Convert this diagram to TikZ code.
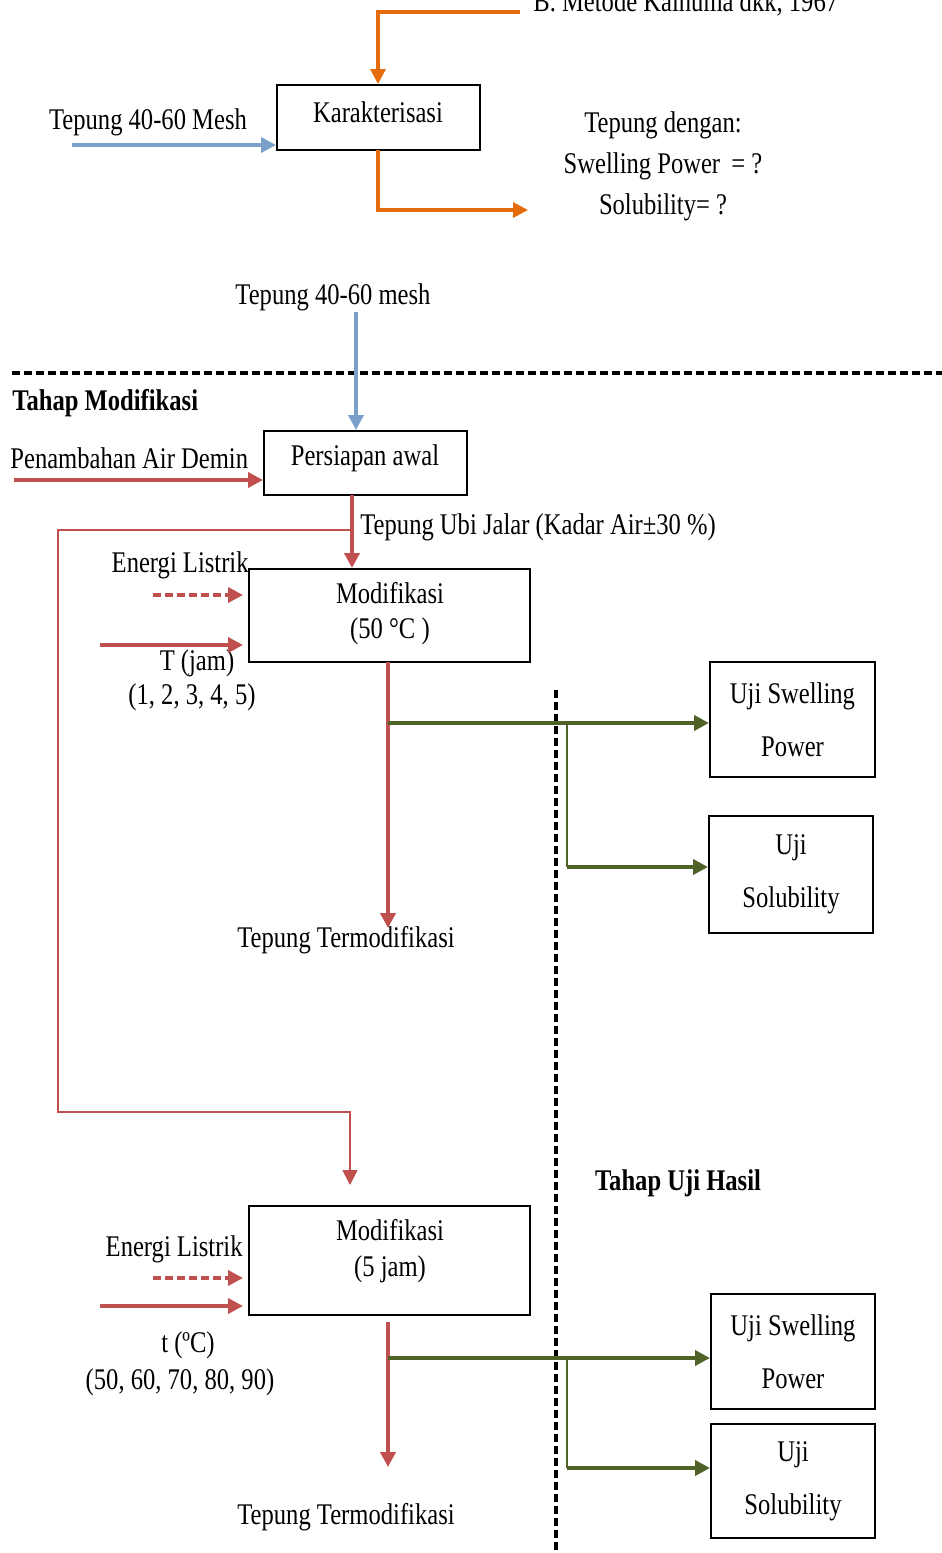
\documentclass[tikz,border=0pt]{standalone}
\usepackage{fontspec}
\setmainfont{Liberation Serif}[FakeStretch=0.82]
\usetikzlibrary{arrows.meta}
\definecolor{cor}{RGB}{228,108,10}
\definecolor{cbl}{RGB}{122,160,202}
\definecolor{crd}{RGB}{192,80,77}
\definecolor{cgr}{RGB}{79,98,40}
\begin{document}
\begin{tikzpicture}[x=0.5pt,y=-0.5pt,
  font=\fontsize{15}{17}\selectfont,
  box/.style={draw, line width=1pt, inner sep=0, fill=white},
  lbl/.style={inner sep=0},
  tipA/.style={-{Triangle[length=7.5pt,width=7.5pt]}},
  orline/.style={draw=cor, line width=1.6pt},
  blline/.style={draw=cbl, line width=1.8pt},
  rdline/.style={draw=crd, line width=2pt},
  rdthin/.style={draw=crd, line width=0.9pt},
  grline/.style={draw=cgr, line width=2.2pt},
  grthin/.style={draw=cgr, line width=1.1pt},
  sep/.style={draw=black, line width=1.7pt, dash pattern=on 4pt off 2pt}]
\useasboundingbox (0,0) rectangle (942,1553);
\clip (0,0) rectangle (942,1553);

% separators
\coordinate (h1) at (12,373);
\coordinate (h2) at (942,373);
\draw[sep] (h1) -- (h2);
\coordinate (v1) at (556,690);
\coordinate (v2) at (556,1560);
\draw[sep] (v1) -- (v2);

% boxes
\node[box, minimum width=101.5pt, minimum height=32.5pt] (kar) at (378.5,117.5) {};
\node[lbl] (karT) at (378,112) {Karakterisasi};
\node[box, minimum width=101.5pt, minimum height=32pt] (pers) at (365.5,463) {};
\node[lbl] (persT) at (365,458) {Persiapan awal};
\node[box, minimum width=140.5pt, minimum height=46.5pt] (mod1) at (389.5,615.5) {};
\node[lbl, align=center] (mod1T) at (390,614) {Modifikasi\\[0.5pt](50 °C )};
\node[box, minimum width=140.5pt, minimum height=54.5pt] (mod2) at (389.5,1260.5) {};
\node[lbl, align=center] (mod2T) at (390,1251) {Modifikasi\\[1pt](5 jam)};
\node[box, minimum width=82.5pt, minimum height=57.5pt, align=center] (sp1) at (792.5,719.5) {Uji Swelling\\[9.5pt]Power};
\node[box, minimum width=82pt, minimum height=58.5pt, align=center] (sol1) at (791,874.5) {Uji\\[9.5pt]Solubility};
\node[box, minimum width=82pt, minimum height=57.5pt, align=center] (sp2) at (793,1351.5) {Uji Swelling\\[9.5pt]Power};
\node[box, minimum width=82pt, minimum height=57pt, align=center] (sol2) at (793,1481) {Uji\\[9.5pt]Solubility};

% texts
\node[lbl, anchor=base west] (ref) at (533,11) {B. Metode Kainuma dkk, 1967};
\node[lbl] (t4060) at (148,122) {Tepung 40-60 Mesh};
\node[lbl, align=center] (out) at (663,166) {Tepung dengan:\\[3.5pt]Swelling Power \,= ?\\[3.5pt]Solubility= ?};
\node[lbl] (t4060b) at (333,297) {Tepung 40-60 mesh};
\node[lbl, anchor=west, font=\fontsize{15}{17}\selectfont\bfseries] (tm) at (12,403) {Tahap Modifikasi};
\node[lbl, anchor=west] (pad) at (10,458) {Penambahan Air Demin};
\node[lbl, anchor=west] (tuj) at (360,527) {Tepung Ubi Jalar (Kadar Air±30 \%)};
\node[lbl, anchor=east] (el1) at (249,565) {Energi Listrik};
\node[lbl] (tj) at (197,663) {T (jam)};
\node[lbl] (tjv) at (192,697) {(1, 2, 3, 4, 5)};
\node[lbl] (tt1) at (346,940) {Tepung Termodifikasi};
\node[lbl, font=\fontsize{15}{17}\selectfont\bfseries] (tuh) at (678,1183) {Tahap Uji Hasil};
\node[lbl, anchor=east] (el2) at (243,1249) {Energi Listrik};
\node[lbl] (tc) at (188,1345) {t (ºC)};
\node[lbl] (tcv) at (180,1382) {(50, 60, 70, 80, 90)};
\node[lbl] (tt2) at (346,1517) {Tepung Termodifikasi};

% orange
\coordinate (o1) at (520,12);
\draw[orline, tipA] (o1) -| (kar.north -| 378,0);
\coordinate (o2) at (528,210);
\coordinate (o0) at (378,150);
\draw[orline, tipA] (o0) |- (o2);

% blue
\coordinate (b1) at (72,145);
\draw[blline, tipA] (b1) -- (b1 -| kar.west);
\coordinate (b2) at (356,312);
\draw[blline, tipA] (b2) -- (b2 |- pers.north);

% red top part
\coordinate (r1) at (14,480);
\draw[rdline, tipA] (r1) -- (r1 -| pers.west);
\coordinate (r2) at (352,495);
\draw[rdline, tipA] (r2) -- (r2 |- mod1.north);
\coordinate (r3) at (352,530);
\coordinate (r4) at (58,1112);
\coordinate (r5) at (350,1185);
\draw[rdthin, tipA] (r3) -| (r4) -| (r5);

\coordinate (e1) at (153,595);
\coordinate (e1b) at (243,595);
\draw[rdline, tipA, dash pattern=on 4pt off 2pt] (e1) -- (e1b);
\coordinate (e2) at (100,645);
\coordinate (e2b) at (243,645);
\draw[rdline, tipA] (e2) -- (e2b);

\coordinate (d1) at (388,662);
\coordinate (d1b) at (388,928);
\draw[rdline, tipA] (d1) -- (d1b);

\coordinate (e3) at (153,1278);
\coordinate (e3b) at (243,1278);
\draw[rdline, tipA, dash pattern=on 4pt off 2pt] (e3) -- (e3b);
\coordinate (e4) at (100,1306);
\coordinate (e4b) at (243,1306);
\draw[rdline, tipA] (e4) -- (e4b);

\coordinate (d2) at (388,1322);
\coordinate (d2b) at (388,1467);
\draw[rdline, tipA] (d2) -- (d2b);

% green
\coordinate (g1) at (388,723);
\draw[grline, tipA] (g1) -- (g1 -| sp1.west);
\coordinate (g2) at (567,723);
\coordinate (g3) at (567,867);
\draw[grthin] (g2) -- (g3);
\draw[grline, tipA] (g3) -- (g3 -| sol1.west);

\coordinate (g4) at (388,1358);
\draw[grline, tipA] (g4) -- (g4 -| sp2.west);
\coordinate (g5) at (567,1358);
\coordinate (g6) at (567,1468);
\draw[grthin] (g5) -- (g6);
\draw[grline, tipA] (g6) -- (g6 -| sol2.west);
\end{tikzpicture}
\end{document}
